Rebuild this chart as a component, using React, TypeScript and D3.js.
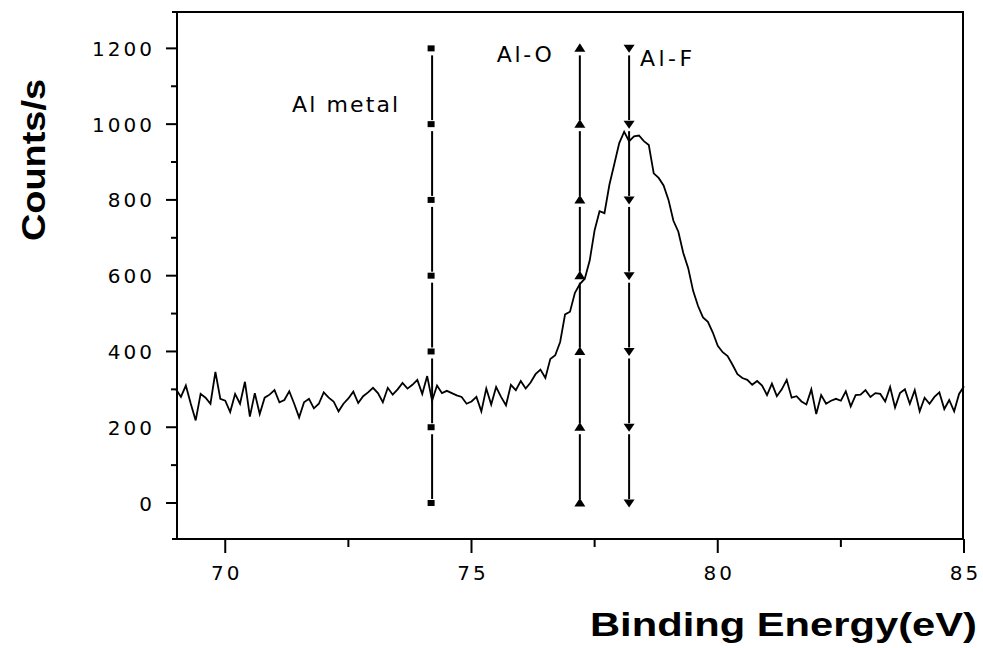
import React from "react";
import * as d3 from "d3";

// ---- data ----
const E_START = 69.0;
const E_STEP = 0.1;
const counts = [
  300, 280, 310, 262, 218, 288, 278, 262, 346, 275,
  270, 240, 288, 262, 320, 228, 290, 235, 278, 286,
  298, 266, 272, 295, 262, 226, 266, 275, 250, 262,
  292, 278, 268, 242, 262, 276, 294, 264, 282, 292,
  304,
  290, 266, 304, 286, 300, 317, 302, 312, 325, 288,
  335, 270, 310, 290, 296, 290, 284, 280, 262, 268,
  280, 242, 302, 260, 306, 280, 258, 312, 298, 322,
  302, 318, 340, 352, 330, 380, 390, 425, 498,
  505, 555, 578, 592, 640, 720, 770, 765, 840, 895,
  950, 980, 955, 968, 970, 955, 945, 870, 858, 838,
  800, 745, 716, 660, 620, 560, 520, 490, 478, 450,
  415, 398, 388, 365, 340, 330, 325, 312, 322,
  310, 285, 315, 282, 300, 325, 278, 282, 268, 260,
  300, 235, 285, 262, 270, 275, 270, 295, 255, 285,
  286, 298, 280, 290, 288, 268, 306, 252, 290, 300,
  262, 298, 242, 278, 262, 280, 292, 248, 272, 242,
  288, 308,
];
const refNames = ["Al metal", "Al-O", "Al-F"];
const refEnergies = [74.2, 77.2, 78.2];
const refSymbols = ["square", "triangleUp", "triangleDown"];
const markerLevels = [0, 200, 400, 600, 800, 1000, 1200];
const xMajorTicks = [70, 75, 80, 85];
const xMinorTicks = [72.5, 77.5, 82.5];
const yMajorTicks = [0, 200, 400, 600, 800, 1000, 1200];
const yMinorTicks = [100, 300, 500, 700, 900, 1100];
const xTitle = "Binding Energy(eV)";
const yTitle = "Counts/s";

export default function App() {
  const W = 983;
  const H = 648;
  const left = 177;
  const right = 963;
  const top = 12;
  const bottom = 539;
  const x = d3.scaleLinear().domain([69, 85]).range([176, 964]);
  const y = d3.scaleLinear().domain([-95, 1296]).range([bottom, top]);

  const data: [number, number][] = counts.map((c, i) => [E_START + i * E_STEP, c]);
  const line = d3
    .line<[number, number]>()
    .x((d) => x(d[0]))
    .y((d) => y(d[1]));

  const tickFont = "'DejaVu Sans', sans-serif";
  const labelLayout = [
    { anchor: "end", dx: -34, y: 112, len: 106 },
    { anchor: "end", dx: -28, y: 62, len: 55 },
    { anchor: "start", dx: 11, y: 66, len: 52 },
  ];

  const symbolPath = (kind: string) => {
    if (kind === "square") return "M-4.5,-3 h7 v6 h-7 Z";
    if (kind === "triangleUp") return "M0,-5 L5.5,3.5 L-5.5,3.5 Z";
    return "M0,4.5 L5.5,-3.5 L-5.5,-3.5 Z";
  };

  return (
    <svg
      width={W}
      height={H}
      style={{ position: "absolute", left: 0, top: 0, background: "#fff" }}
    >
      <rect x={0} y={0} width={W} height={H} fill="#fff" />

      {/* spectrum */}
      <path d={line(data) || ""} fill="none" stroke="#000" strokeWidth={1.8} strokeLinejoin="miter" />

      {/* reference lines with markers */}
      {refEnergies.map((e, k) => {
        const cx = x(e);
        const segs = [];
        for (let i = 0; i < markerLevels.length - 1; i++) {
          const y1 = y(markerLevels[i + 1]) + 7;
          const y2 = y(markerLevels[i]) - 4;
          segs.push(
            <line key={"s" + i} x1={cx} x2={cx} y1={y1} y2={y2} stroke="#000" strokeWidth={2} />
          );
        }
        return (
          <g key={"ref" + k}>
            {segs}
            {markerLevels.map((m, i) => (
              <path
                key={"m" + i}
                d={symbolPath(refSymbols[k])}
                transform={`translate(${cx},${y(m)})`}
                fill="#000"
              />
            ))}
            <text
              x={cx + labelLayout[k].dx}
              y={labelLayout[k].y}
              textAnchor={labelLayout[k].anchor as any}
              fontFamily={tickFont}
              fontSize={22}
              textLength={labelLayout[k].len}
              lengthAdjust="spacing"
              fill="#000"
            >
              {refNames[k]}
            </text>
          </g>
        );
      })}

      {/* frame */}
      <line x1={left} x2={left} y1={top - 1} y2={bottom + 1} stroke="#000" strokeWidth={2} />
      <line x1={left - 5} x2={right + 1} y1={top} y2={top} stroke="#000" strokeWidth={2} />
      <line x1={left - 5} x2={right + 1} y1={bottom} y2={bottom} stroke="#000" strokeWidth={2} />
      <line x1={right} x2={right} y1={top - 1} y2={bottom} stroke="#000" strokeWidth={2} />

      {/* y ticks */}
      {yMajorTicks.map((t) => (
        <g key={"ym" + t}>
          <line x1={left - 11} x2={left} y1={y(t)} y2={y(t)} stroke="#000" strokeWidth={2} />
          <text
            x={152}
            y={y(t) + 7.5}
            textAnchor="end"
            fontFamily={tickFont}
            fontSize={20}
            letterSpacing={3}
            dx={3}
            fill="#000"
          >
            {t}
          </text>
        </g>
      ))}
      {yMinorTicks.map((t) => (
        <line key={"yn" + t} x1={left - 6} x2={left} y1={y(t)} y2={y(t)} stroke="#000" strokeWidth={2} />
      ))}

      {/* x ticks */}
      {xMajorTicks.map((t) => (
        <g key={"xm" + t}>
          <line x1={x(t)} x2={x(t)} y1={bottom} y2={bottom + 14} stroke="#000" strokeWidth={2} />
          <text
            x={x(t) + 1.5}
            y={580}
            textAnchor="middle"
            fontFamily={tickFont}
            fontSize={20}
            letterSpacing={3}
            fill="#000"
          >
            {t}
          </text>
        </g>
      ))}
      {xMinorTicks.map((t) => (
        <line key={"xn" + t} x1={x(t)} x2={x(t)} y1={bottom} y2={bottom + 8} stroke="#000" strokeWidth={2} />
      ))}

      {/* titles */}
      <text
        x={590}
        y={636}
        fontFamily="'Liberation Sans', Arial, sans-serif"
        fontWeight="bold"
        fontSize={34}
        textLength={387}
        lengthAdjust="spacingAndGlyphs"
        fill="#000"
      >
        {xTitle}
      </text>
      <text
        transform="translate(45,160) rotate(-90)"
        textAnchor="middle"
        fontFamily="'Liberation Sans', Arial, sans-serif"
        fontWeight="bold"
        fontSize={34}
        textLength={162}
        lengthAdjust="spacingAndGlyphs"
        fill="#000"
      >
        {yTitle}
      </text>
    </svg>
  );
}
